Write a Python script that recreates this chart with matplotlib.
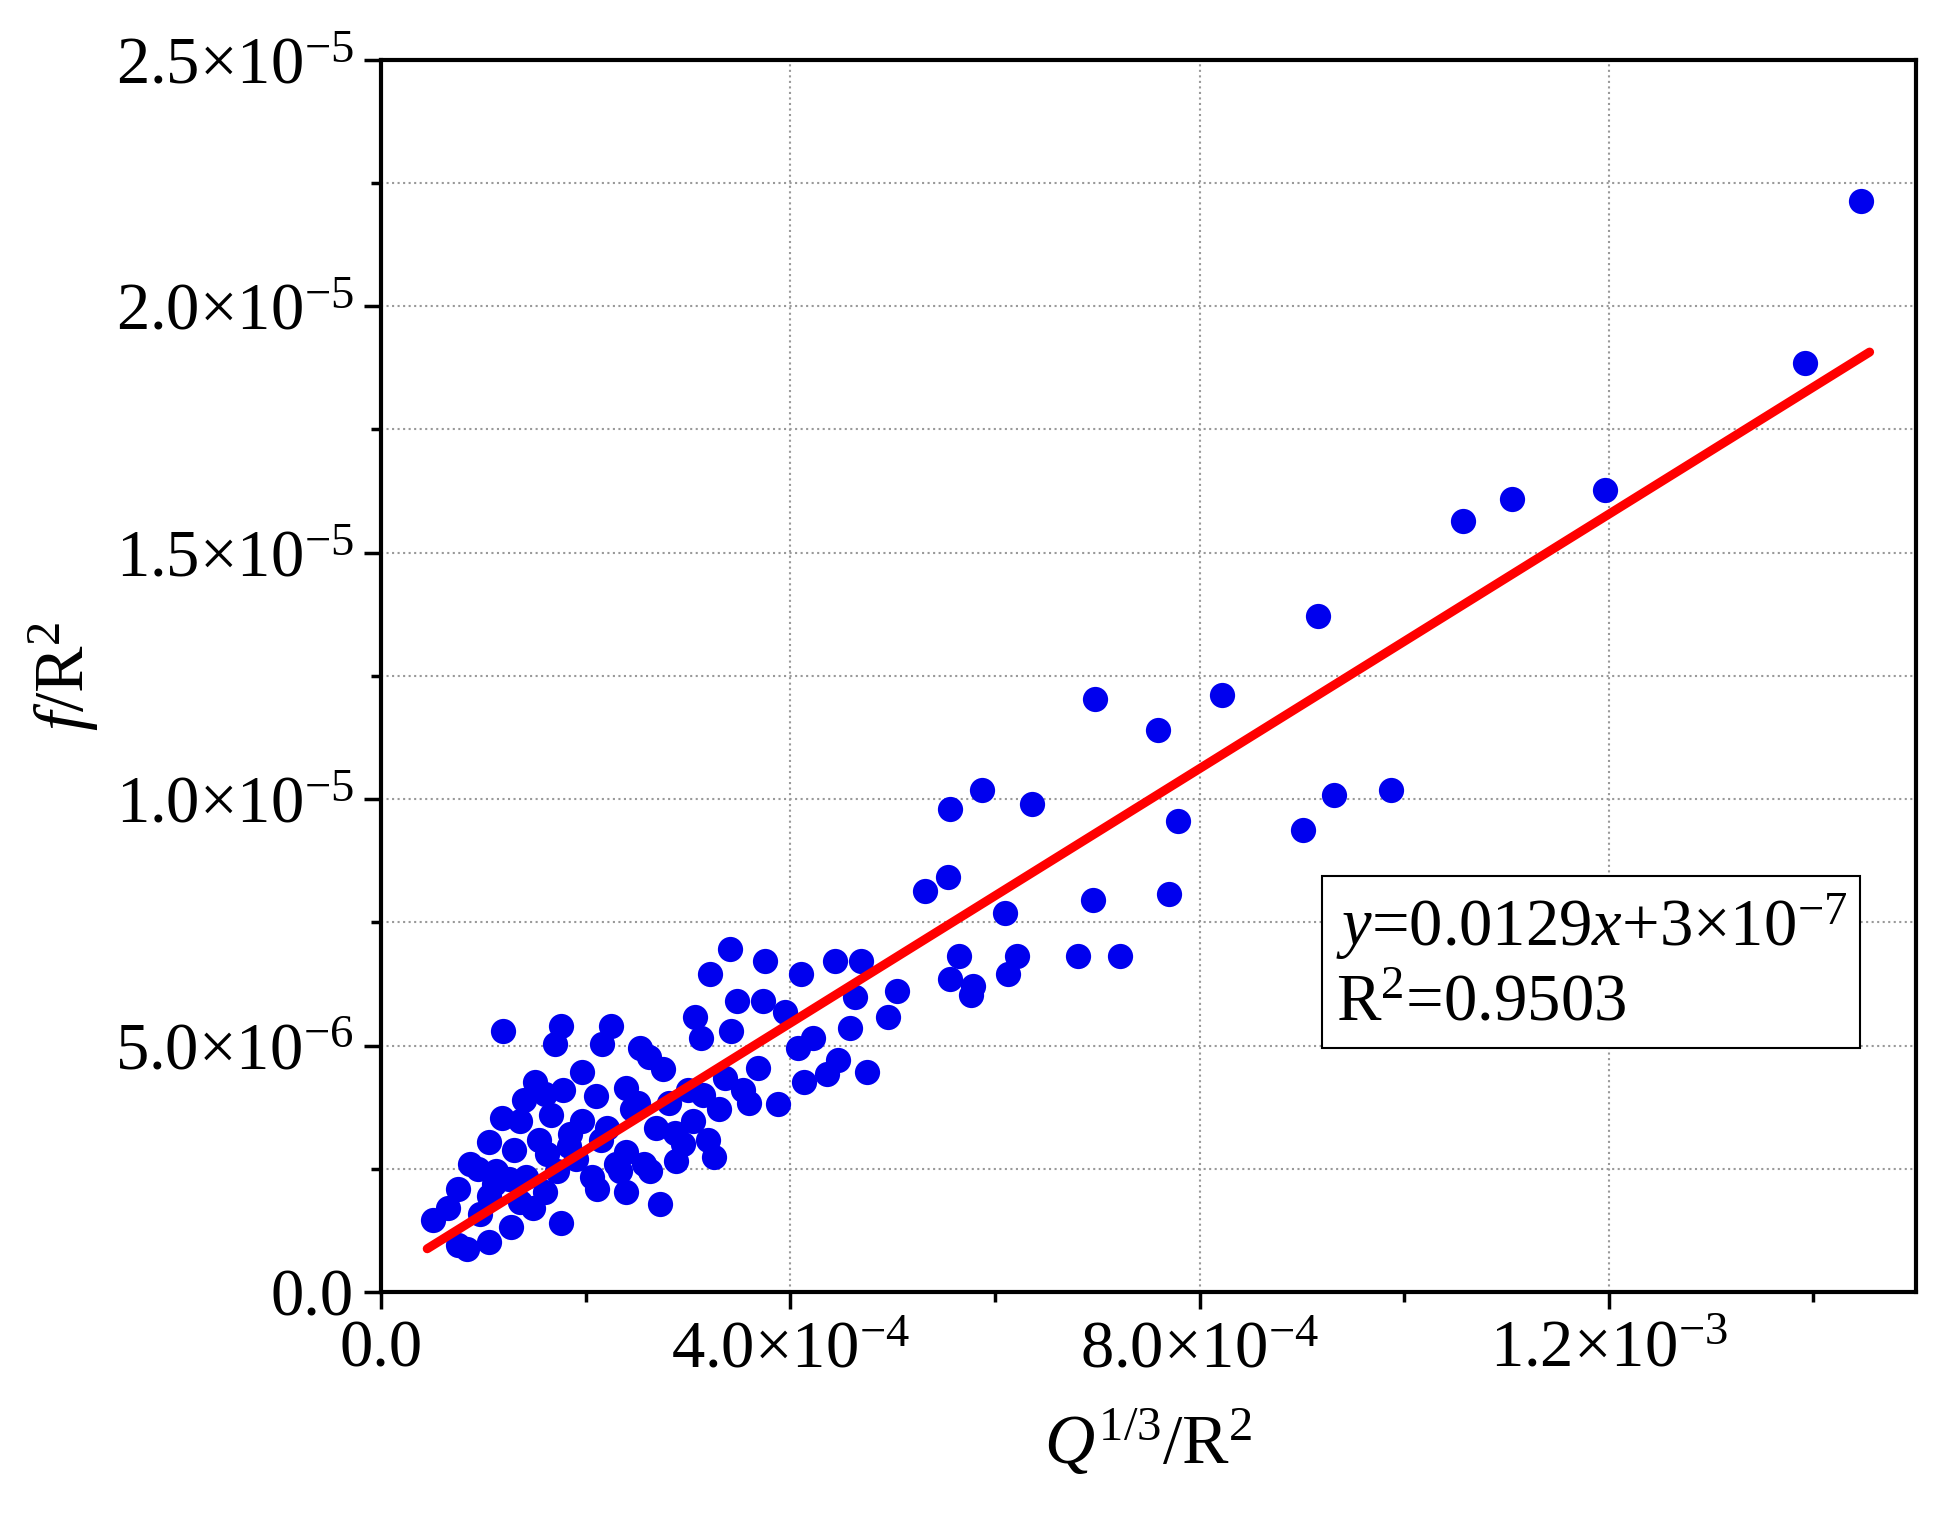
import matplotlib
matplotlib.use('Agg')
import matplotlib.pyplot as plt
from matplotlib.ticker import MultipleLocator, FuncFormatter
import numpy as np

plt.rcParams['font.family'] = 'Liberation Serif'
plt.rcParams['mathtext.fontset'] = 'custom'
plt.rcParams['mathtext.rm'] = 'Liberation Serif'
plt.rcParams['mathtext.it'] = 'Liberation Serif:italic'

# x in units of 1e-4, y in units of 1e-6
x_pts = [14.47, 13.92, 11.96, 11.05, 10.58, 9.16, 8.22, 6.98, 7.59, 9.87, 9.31, 9.01, 7.79,
         5.87, 5.56, 6.36, 5.54, 5.32, 7.70, 6.96, 6.10, 6.81, 7.22, 6.22, 5.65, 5.56, 5.79,
         5.77, 6.13, 5.04, 4.95, 4.75, 4.69, 4.44, 4.63, 4.58, 4.47, 4.36, 4.22, 4.13, 4.10,
         4.07, 3.95, 3.75, 3.41, 3.73, 3.48, 3.21, 3.07, 3.13, 3.42, 3.88, 3.68, 3.60, 3.25,
         3.19, 2.88, 2.73,
         1.19, 1.76, 1.70, 2.25, 2.16, 2.53, 2.62, 2.75, 1.96, 1.50, 1.60, 1.78, 2.10, 2.39,
         2.51, 1.18, 1.36, 1.66, 1.96, 2.21, 2.69, 2.87, 1.05, 1.30, 1.54, 1.84, 2.15, 2.39,
         2.57, 0.87, 1.12, 1.42, 1.72, 2.06, 2.33, 2.63, 0.75, 1.05, 1.36, 1.60, 2.11, 2.39,
         0.65, 0.97, 1.27, 1.76, 0.75, 0.84, 1.05, 1.48, 1.90, 2.81, 3.05, 3.36, 3.54, 3.30,
         3.00, 2.45, 0.51, 1.40, 1.85, 2.30, 2.95, 3.15, 1.10, 1.62, 0.95, 1.25]
y_pts = [22.14, 18.84, 16.28, 16.08, 15.65, 13.72, 12.11, 12.04, 11.41, 10.18, 10.08, 9.37, 9.55,
         10.18, 9.80, 9.90, 8.42, 8.14, 8.07, 7.96, 7.69, 6.81, 6.81, 6.81, 6.81, 6.36, 6.21,
         6.03, 6.46, 6.11, 5.58, 4.47, 6.71, 6.71, 5.98, 5.35, 4.70, 4.42, 5.15, 4.27, 6.46,
         4.95, 5.68, 6.71, 6.96, 5.90, 5.90, 6.46, 5.58, 5.15, 5.30, 3.82, 4.55, 3.84, 2.74,
         3.09, 2.66, 1.78,
         5.30, 5.40, 5.03, 5.40, 5.03, 4.95, 4.77, 4.52, 4.47, 4.27, 4.02, 4.10, 3.97, 4.15,
         3.84, 3.54, 3.47, 3.59, 3.47, 3.34, 3.34, 3.22, 3.04, 2.89, 3.09, 2.96, 3.09, 2.84,
         2.59, 2.59, 2.46, 2.34, 2.46, 2.34, 2.46, 2.46, 2.09, 1.96, 1.83, 2.04, 2.09, 2.04,
         1.71, 1.58, 1.33, 1.41, 0.95, 0.88, 1.01, 1.71, 2.71, 3.84, 3.47, 4.35, 4.10, 3.72,
         4.10, 3.72, 1.46, 3.90, 3.20, 2.60, 3.00, 4.00, 2.20, 2.80, 2.50, 2.30]
slope = 0.0129
intercept = 3e-7
fit_x = [0.45e-4, 14.55e-4]

x = np.array(x_pts) * 1e-4
y = np.array(y_pts) * 1e-6

fig = plt.figure(figsize=(19.35, 15.31), dpi=100)
ax = fig.add_axes([0.197, 0.156, 0.793, 0.805])
ax.scatter(x, y, s=330, color='#0000ee', zorder=3, linewidths=0)
fx = np.array(fit_x)
ax.plot(fx, slope * fx + intercept, color='#ff0000', lw=6.5, zorder=4, solid_capstyle='round')

ax.set_xlim(0, 1.5e-3)
ax.set_ylim(0, 2.5e-5)
ax.xaxis.set_major_locator(MultipleLocator(4e-4))
ax.xaxis.set_minor_locator(MultipleLocator(2e-4))
ax.yaxis.set_major_locator(MultipleLocator(5e-6))
ax.yaxis.set_minor_locator(MultipleLocator(2.5e-6))


def sci(v, pos):
    if abs(v) < 1e-12:
        return '0.0'
    e = int(np.floor(np.log10(abs(v)) + 1e-9))
    m = v / 10 ** e
    return r'%.1f$\times$10$^{\mathrm{-%d}}$' % (m, -e)


ax.xaxis.set_major_formatter(FuncFormatter(sci))
ax.yaxis.set_major_formatter(FuncFormatter(sci))
ax.grid(True, which='major', axis='x', ls=':', color='#999999', lw=1.5)
ax.grid(True, which='both', axis='y', ls=':', color='#999999', lw=1.5)
ax.tick_params(which='major', direction='out', length=12, width=2.5, labelsize=48, pad=8)
ax.tick_params(which='minor', direction='out', length=7, width=2.5)
for s in ax.spines.values():
    s.set_linewidth(3)

ax.set_xlabel(r'$Q^{\mathrm{1/3}}$/R$^{2}$', fontsize=50, labelpad=20)
ax.set_ylabel(r'$f$/R$^{2}$', fontsize=50, labelpad=10)

ax.text(0.622, 0.267, r'$y$=0.0129$x$+3$\times$10$^{\mathrm{-7}}$' + '\n' + r'R$^{2}$=0.9503',
        transform=ax.transAxes, fontsize=48, va='center', ha='left', linespacing=1.25,
        bbox=dict(boxstyle='square,pad=0.2', fc='white', ec='black', lw=1.5), zorder=5)

fig.savefig('out.png', dpi=100)
